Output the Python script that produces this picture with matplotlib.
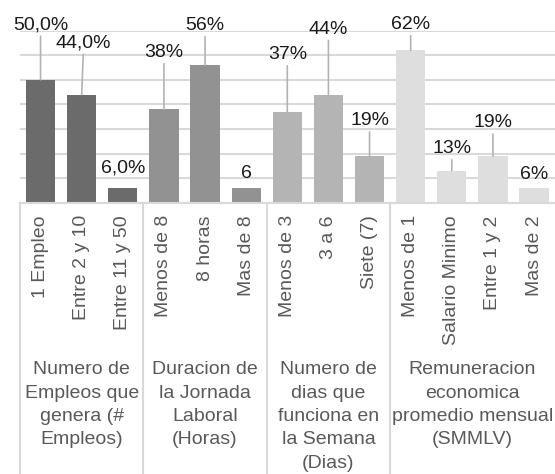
import matplotlib
matplotlib.use("Agg")
import matplotlib.pyplot as plt
from matplotlib.transforms import blended_transform_factory

plt.rcParams['font.family'] = ['Liberation Sans', 'DejaVu Sans']

# ---- data ----
categories = ["1 Empleo", "Entre 2 y 10", "Entre 11 y 50",
              "Menos de 8", "8 horas", "Mas de 8",
              "Menos de 3", "3 a 6", "Siete (7)",
              "Menos de 1", "Salario Minimo", "Entre 1 y 2", "Mas de 2"]
values = [50, 44, 6, 38, 56, 6, 37, 44, 19, 62, 13, 19, 6]
value_labels = ["50,0%", "44,0%", "6,0%", "38%", "56%", "6",
                "37%", "44%", "19%", "62%", "13%", "19%", "6%"]
groups = ["Numero de\nEmpleos que\ngenera (#\nEmpleos)",
          "Duracion de\nla Jornada\nLaboral\n(Horas)",
          "Numero de\ndias que\nfunciona en\nla Semana\n(Dias)",
          "Remuneracion\neconomica\npromedio mensual\n(SMMLV)"]
group_sizes = [3, 3, 3, 4]

# ---- style / layout ----
group_colors = ["#6b6b6b", "#929292", "#b4b4b4", "#dedede"]
label_dy = [57, 53.6, 21.5, 59, 41.7, 16.5, 59.3, 67.5, 37.3, 28, 24.3, 35.3, 15.7]
label_dx = [0, 2, 0, 0, 0, 0, 0, 0, 0, 0, 0, 0, 0]

W, H = 555, 474
fig = plt.figure(figsize=(W / 100, H / 100), dpi=100)
base_px = 202.7
top_px = 30.7
ax = fig.add_axes([20 / W, (H - base_px) / H, (554.6 - 20) / W, (base_px - top_px) / H])

colors = []
for c, n in zip(group_colors, group_sizes):
    colors += [c] * n

x = list(range(len(values)))
ax.bar(x, values, width=0.71, color=colors, zorder=2)
ax.set_xlim(-0.5, len(values) - 0.5)
ax.set_ylim(0, 70)
ax.set_yticks(range(0, 71, 10))
ax.yaxis.grid(True, color="#d9d9d9", lw=1.5, zorder=0)
ax.tick_params(axis='y', left=False, labelleft=False)
for s in ['top', 'right', 'left']:
    ax.spines[s].set_visible(False)
ax.spines['bottom'].set_color("#d9d9d9")
ax.spines['bottom'].set_linewidth(1.5)

ax.set_xticks(x)
ax.set_xticklabels(categories, rotation=90, fontsize=14, color="#595959")
ax.tick_params(axis='x', length=0, pad=9)

# value labels with leader lines
for i, (v, lab) in enumerate(zip(values, value_labels)):
    dy = label_dy[i]
    ap = None
    if dy > 23:
        ap = dict(arrowstyle='-', color="#b3b3b3", lw=1.2, shrinkA=0, shrinkB=0)
    ax.annotate(lab, xy=(i, v), xytext=(label_dx[i], dy - 2), textcoords='offset pixels',
                ha='center', va='center', fontsize=14, color="#1a1a1a",
                arrowprops=ap, annotation_clip=False, zorder=3)

# group separators and labels
tr = blended_transform_factory(ax.transData, fig.transFigure)
y_base = (H - base_px) / H
start = -0.5
for g, n in zip(groups, group_sizes):
    ax.plot([start, start], [0, y_base], transform=tr, color="#d9d9d9", lw=1.5, clip_on=False)
    center = start + n / 2
    ax.text(center, (H - 361) / H, g, transform=tr, ha='center', va='top',
            multialignment='center', fontsize=14, color="#595959", linespacing=1.5)
    start += n

fig.savefig("out.png", dpi=100)
